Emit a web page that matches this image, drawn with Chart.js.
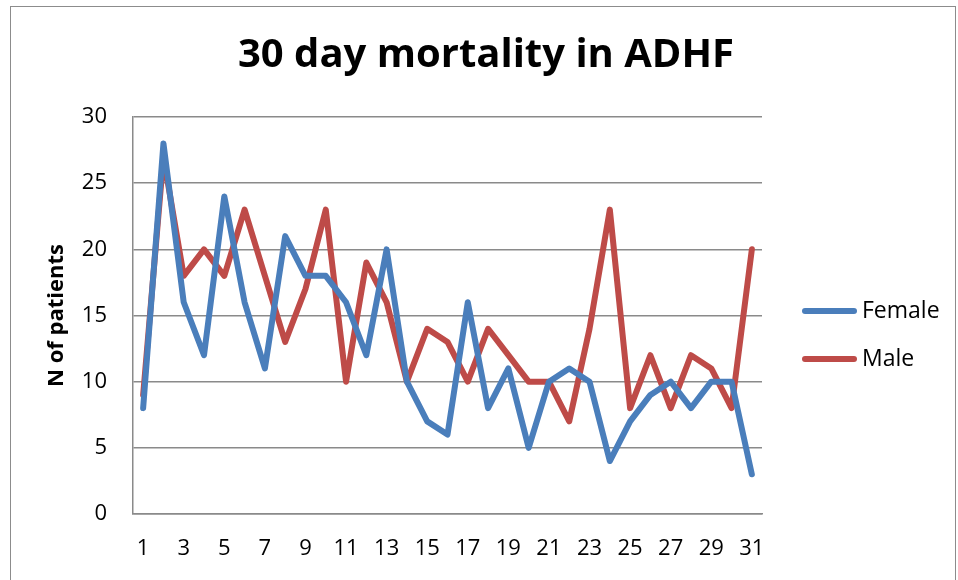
<!DOCTYPE html>
<html>
<head>
<meta charset="utf-8">
<script src="https://cdn.jsdelivr.net/npm/chart.js@4.4.0/dist/chart.umd.min.js"></script>
<style>
  html, body { margin: 0; padding: 0; background: #fff; }
  #wrap { position: relative; width: 958px; height: 580px; overflow: hidden; }
  #frame { position: absolute; left: 10px; top: 6px; width: 944px; height: 600px; border: 1px solid #8c8c8c; }
  canvas { position: absolute; left: 0; top: 0; }
</style>
</head>
<body>
<div id="wrap">
  <div id="frame"></div>
  <canvas id="mortChart" width="958" height="580"></canvas>
</div>
<script>
const days = [
    '1', '2', '3', '4', '5', '6', '7', '8', '9', '10',
    '11', '12', '13', '14', '15', '16', '17', '18', '19', '20',
    '21', '22', '23', '24', '25', '26', '27', '28', '29', '30', '31'
];

const female = [8, 28, 16, 12, 24, 16, 11, 21, 18, 18, 16, 12, 20, 10, 7, 6, 16, 8, 11, 5, 10, 11, 10, 4, 7, 9, 10, 8, 10, 10, 3];
const male = [9, 27, 18, 20, 18, 23, 18, 13, 17, 23, 10, 19, 16, 10, 14, 13, 10, 14, 12, 10, 10, 7, 14, 23, 8, 12, 8, 12, 11, 8, 20];

const yTicks = [0, 5, 10, 15, 20, 25, 30];

const fontFam = '"Open Sans", sans-serif';
const gridColor = '#8a8a8a';

// legend drawn to the right of the plot, like the Excel one
const sideLegend = {
    id: 'sideLegend',
    afterDraw(chart) {
        const ctx = chart.ctx;
        const x0 = chart.chartArea.right + 40;
        const yMid = 335;
        ctx.save();
        ctx.font = '23px ' + fontFam;
        ctx.textBaseline = 'middle';
        chart.data.datasets.forEach((ds, i) => {
            const y = yMid + (i - 0.5) * 48;
            ctx.strokeStyle = ds.borderColor;
            ctx.lineWidth = 6;
            ctx.lineCap = 'round';
            ctx.beginPath();
            ctx.moveTo(x0 + 3, y);
            ctx.lineTo(x0 + 52, y);
            ctx.stroke();
            ctx.fillStyle = '#000';
            ctx.fillText(ds.label, x0 + 60, y);
        });
        ctx.restore();
    }
};

const config = {
    type: 'line',
    data: {
        labels: days,
        datasets: [{
            label: 'Female',
            data: female,
            borderColor: '#4a7ebb',
            backgroundColor: '#4a7ebb',
            borderWidth: 6,
            pointRadius: 0,
            tension: 0,
            borderJoinStyle: 'round',
            borderCapStyle: 'round'
        }, {
            label: 'Male',
            data: male,
            borderColor: '#be4b48',
            backgroundColor: '#be4b48',
            borderWidth: 6,
            pointRadius: 0,
            tension: 0,
            borderJoinStyle: 'round',
            borderCapStyle: 'round'
        }]
    },
    options: {
        responsive: false,
        animation: false,
        layout: { padding: { left: 14, right: 0, top: 8, bottom: 0 } },
        plugins: {
            legend: { display: false },
            tooltip: { enabled: false },
            title: {
                display: true,
                text: '30 day mortality in ADHF',
                color: '#000',
                font: { family: fontFam, size: 40, weight: 'bold' },
                padding: { top: 24, bottom: 37 }
            }
        },
        scales: {
            x: {
                type: 'category',
                offset: true,
                grid: { display: false, drawTicks: false },
                border: { display: true, color: gridColor, width: 1.5 },
                ticks: {
                    color: '#000',
                    font: { family: fontFam, size: 22 },
                    autoSkip: false,
                    maxRotation: 0,
                    padding: 22,
                    callback: function(val, idx) {
                        return idx % 2 === 0 ? days[idx] : '';
                    }
                },
                afterFit: function(scale) { scale.height = 66; }
            },
            y: {
                min: 0,
                max: 30,
                grid: { color: gridColor, lineWidth: 1.5, drawTicks: false },
                border: { display: true, color: gridColor, width: 1.5 },
                afterBuildTicks: function(scale) {
                    scale.ticks = yTicks.map(v => ({ value: v }));
                },
                ticks: {
                    color: '#000',
                    font: { family: fontFam, size: 22 },
                    padding: 26
                },
                title: {
                    display: true,
                    text: 'N of patients',
                    color: '#000',
                    font: { family: fontFam, size: 22, weight: 'bold' },
                    padding: { top: 30, bottom: 0 }
                },
                afterFit: function(scale) { scale.width = 119; }
            },
            // empty right-hand axis, only keeps room for the legend
            yRoom: {
                position: 'right',
                display: true,
                grid: { display: false },
                border: { display: false },
                ticks: { display: false },
                afterFit: function(scale) { scale.width = 196; }
            }
        }
    },
    plugins: [sideLegend]
};

const mortChart = new Chart(document.getElementById('mortChart'), config);
</script>
</body>
</html>
